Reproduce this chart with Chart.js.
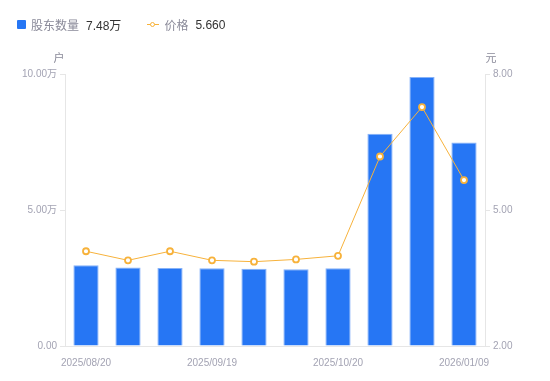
<!DOCTYPE html>
<html>
<head>
<meta charset="utf-8">
<script src="https://cdn.jsdelivr.net/npm/chart.js@4"></script>
<style>
  html, body { margin: 0; padding: 0; background: #fff; }
  #wrap { position: relative; width: 550px; height: 381px; }
  #legend { position: absolute; left: 17px; top: 16px; font: 12px "Liberation Sans", "Noto Sans CJK SC", sans-serif; display: flex; align-items: center; }
  .item { display: flex; align-items: center; margin-right: 26px; }
  .name { color: #8a8a99; margin-right: 7px; }
  .val { color: #333; }
  .sq { width: 9px; height: 9px; background: #2676f4; border-radius: 1px; margin-right: 5px; }
  .ln { position: relative; width: 12px; height: 9px; margin-right: 5px; }
  .ln::before { content: ""; position: absolute; left: 0; right: 0; top: 4px; height: 1px; background: #f7b23b; }
  .ln::after { content: ""; position: absolute; left: 3px; top: 1.5px; width: 3px; height: 3px; border: 1.5px solid #f7b23b; border-radius: 50%; background: #fff; }
</style>
</head>
<body>
<div id="wrap">
  <div id="legend">
    <div class="item"><span class="sq"></span><span class="name">股东数量</span><span class="val">7.48万</span></div>
    <div class="item"><span class="ln"></span><span class="name">价格</span><span class="val">5.660</span></div>
  </div>
  <canvas id="chart" width="550" height="381"></canvas>
</div>
<script>
const dates = ['2025/08/20', '2025/08/29', '2025/09/10', '2025/09/19', '2025/09/30',
  '2025/10/10', '2025/10/20', '2025/10/31', '2025/12/10', '2026/01/09'];
const shareholders = [2.97, 2.89, 2.87, 2.86, 2.84, 2.82, 2.86, 7.80, 9.89, 7.48]; // 万户
const prices = [4.09, 3.89, 4.09, 3.89, 3.86, 3.91, 3.99, 6.18, 7.27, 5.66];
const shownDates = [0, 3, 6, 9];

const tickColor = '#a3a3b3';
const lineColor = '#e6e6e6';
const tickFont = { size: 10, family: '"Liberation Sans", "Noto Sans CJK SC", sans-serif' };

// axis unit titles above each y axis
const unitTitles = {
  id: 'unitTitles',
  afterDraw(chart) {
    const ctx = chart.ctx;
    ctx.save();
    ctx.font = '11px "Noto Sans CJK SC", sans-serif';
    ctx.fillStyle = '#8a8a99';
    ctx.textAlign = 'center';
    ctx.textBaseline = 'middle';
    ctx.fillText('户', chart.scales.y.right - 6, chart.chartArea.top - 16);
    ctx.fillText('元', chart.scales.y1.left + 6, chart.chartArea.top - 16);
    ctx.restore();
  }
};

new Chart(document.getElementById('chart'), {
  data: {
    labels: dates,
    datasets: [
      {
        type: 'line',
        label: '价格',
        data: prices,
        yAxisID: 'y1',
        borderColor: '#f7b23b',
        borderWidth: 1,
        pointRadius: 3,
        pointBorderWidth: 1.8,
        pointBackgroundColor: '#fff',
        pointBorderColor: '#f7b23b',
        tension: 0,
        order: 0
      },
      {
        type: 'bar',
        label: '股东数量',
        data: shareholders,
        yAxisID: 'y',
        backgroundColor: '#2676f4',
        borderColor: '#86b2f8',
        borderWidth: 1,
        barPercentage: 0.6,
        categoryPercentage: 1,
        order: 1
      }
    ]
  },
  options: {
    responsive: false,
    animation: false,
    layout: { padding: { top: 74, left: 0, right: 0, bottom: 0 } },
    plugins: { legend: { display: false }, tooltip: { enabled: false } },
    scales: {
      x: {
        grid: { display: false },
        border: { color: lineColor },
        ticks: {
          color: tickColor, font: tickFont, maxRotation: 0, autoSkip: false, padding: 3,
          callback: (v, i) => shownDates.includes(i) ? dates[i] : ''
        },
        afterFit: s => { s.height = 35; }
      },
      y: {
        position: 'left',
        min: 0, max: 10,
        ticks: {
          stepSize: 5, color: tickColor, font: tickFont, padding: 3,
          callback: v => v === 0 ? '0.00' : v.toFixed(2) + '万'
        },
        grid: { drawOnChartArea: false, drawTicks: true, tickLength: 5, color: lineColor },
        border: { color: lineColor },
        afterFit: s => { s.width = 65; }
      },
      y1: {
        position: 'right',
        min: 2, max: 8,
        ticks: {
          stepSize: 3, color: tickColor, font: tickFont, padding: 3,
          callback: v => v.toFixed(2)
        },
        grid: { drawOnChartArea: false, drawTicks: true, tickLength: 5, color: lineColor },
        border: { color: lineColor },
        afterFit: s => { s.width = 65; }
      }
    }
  },
  plugins: [unitTitles]
});
</script>
</body>
</html>
